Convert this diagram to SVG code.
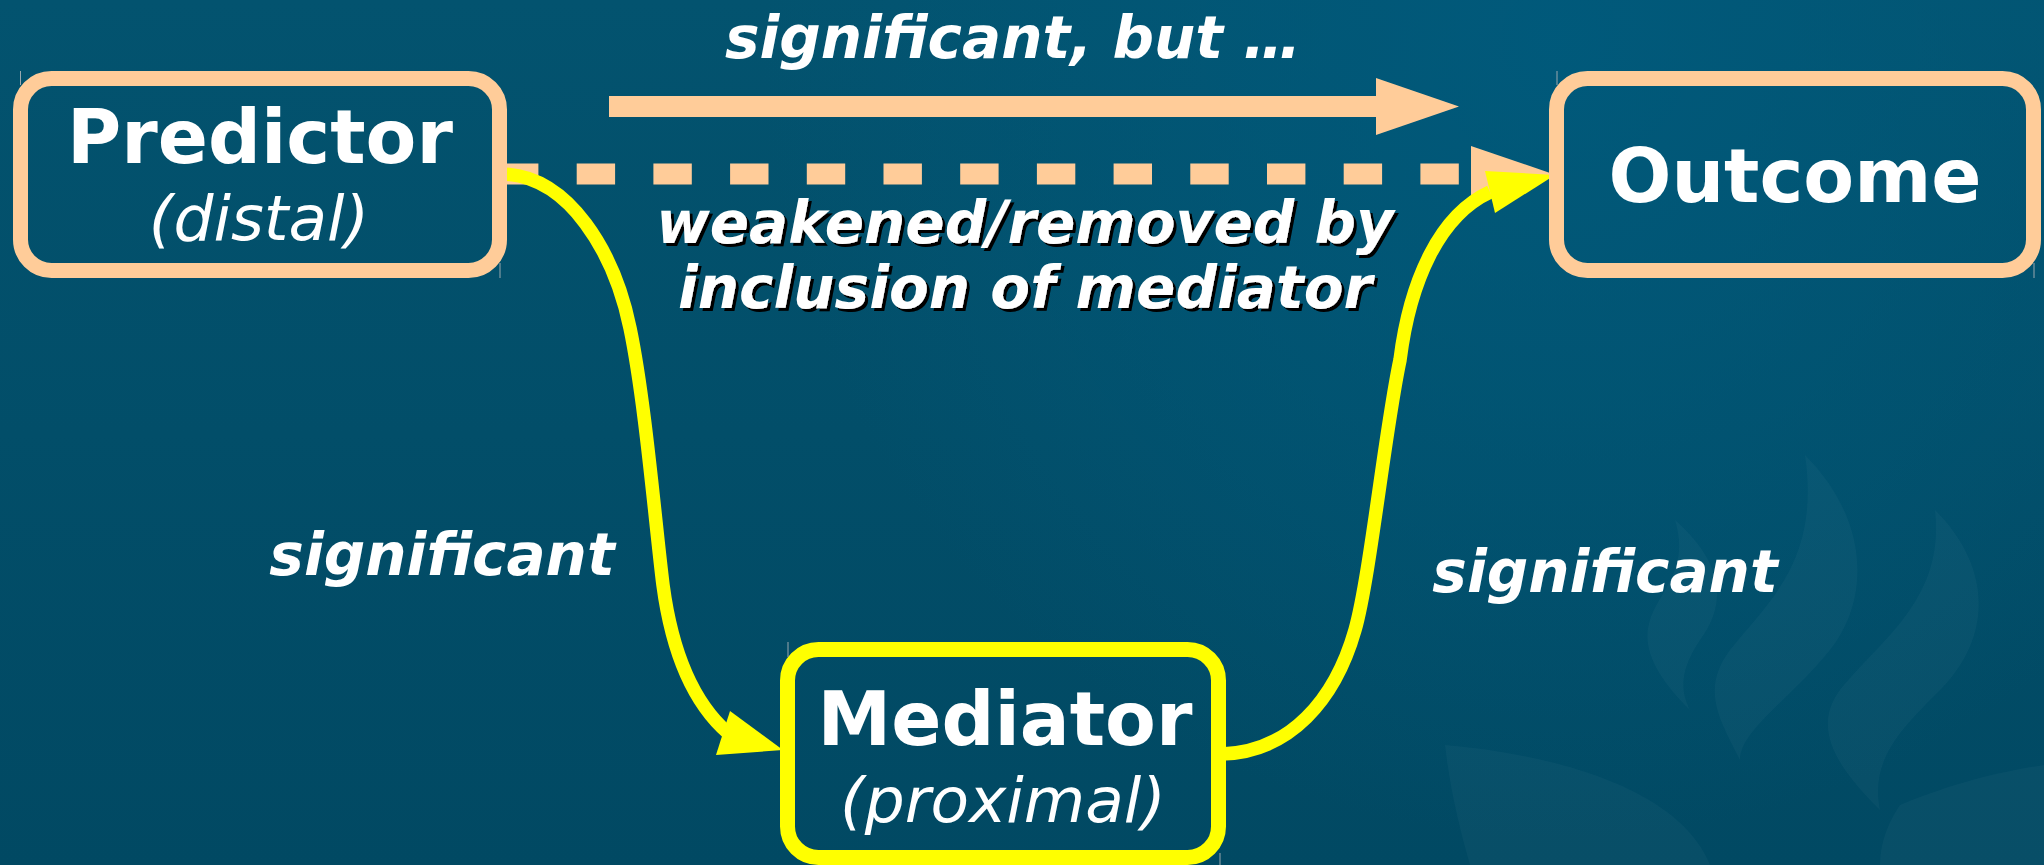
<svg xmlns="http://www.w3.org/2000/svg" width="2044" height="865" viewBox="0 0 2044 865">
  <defs>
    <linearGradient id="bg" x1="0" y1="0" x2="0" y2="1">
      <stop offset="0" stop-color="#03536f"/>
      <stop offset="1" stop-color="#014963"/>
    </linearGradient>
    <radialGradient id="glow" cx="1560" cy="40" r="800" gradientUnits="userSpaceOnUse">
      <stop offset="0" stop-color="#005a7c" stop-opacity="0.9"/>
      <stop offset="1" stop-color="#005a7c" stop-opacity="0"/>
    </radialGradient>
    <filter id="shadow" x="-5%" y="-20%" width="110%" height="140%">
      <feOffset dx="3" dy="3" in="SourceAlpha" result="off"/>
      <feMerge><feMergeNode in="off"/><feMergeNode in="SourceGraphic"/></feMerge>
    </filter>
    <style>
      .box { fill: none; stroke-width: 15; }
      .peach { stroke: #ffcc99; }
      .yel { stroke: #ffff00; }
      .title { font-family: "DejaVu Sans", "Liberation Sans", sans-serif; font-weight: bold; font-size: 74px; fill: #ffffff; text-anchor: middle; }
      .sub { font-family: "DejaVu Sans", "Liberation Sans", sans-serif; font-style: italic; font-size: 63px; fill: #ffffff; text-anchor: middle; }
      .lbl { font-family: "DejaVu Sans", "Liberation Sans", sans-serif; font-style: italic; font-weight: bold; font-size: 58px; fill: #ffffff; text-anchor: middle; }
      .tick { stroke: #9aa8ae; stroke-width: 1; }
      .flame { fill: #ffffff; fill-opacity: 0.03; }
      .curve { fill: none; stroke: #ffff00; stroke-width: 13.5; }
    </style>
  </defs>

  <g id="background">
    <rect x="0" y="0" width="2044" height="865" fill="url(#bg)"/>
    <rect x="0" y="0" width="2044" height="865" fill="url(#glow)"/>
    <path class="flame" d="M1805,455 C1870,520 1870,600 1830,650 C1790,700 1740,730 1740,760 C1720,720 1700,690 1730,650 C1770,600 1820,560 1805,455 Z"/>
    <path class="flame" d="M1675,520 C1720,560 1730,600 1700,640 C1680,670 1680,690 1690,710 C1660,680 1640,650 1650,620 C1660,590 1690,570 1675,520 Z"/>
    <path class="flame" d="M1935,510 C1995,570 1990,640 1940,690 C1900,730 1870,760 1880,810 C1840,770 1810,730 1840,690 C1880,640 1945,600 1935,510 Z"/>
    <path class="flame" d="M1445,745 C1560,755 1680,790 1710,865 L1470,865 C1460,830 1450,790 1445,745 Z"/>
    <path class="flame" d="M1900,805 C1960,780 2010,770 2044,765 L2044,865 L1880,865 C1880,840 1890,820 1900,805 Z"/>
  </g>

  <g id="connectors">
    <!-- significant, but ... arrow -->
    <rect x="609" y="96" width="767" height="21" fill="#ffcc99"/>
    <polygon points="1376,78 1459,106.5 1376,135" fill="#ffcc99"/>
    <!-- dashed direct path -->
    <line x1="500" y1="174" x2="1460" y2="174" stroke="#ffcc99" stroke-width="21" stroke-dasharray="38.4 38.3"/>
    <polygon points="1471,146 1553,174 1471,202" fill="#ffcc99"/>
    <!-- predictor to mediator -->
    <path class="curve" d="M500,174 C570,174 615,255 630,328 C645,400 655,520 663,585 C671,645 690,700 728,733"/>
    <polygon points="730,711 783,750 716,755" fill="#ffff00"/>
    <!-- mediator to outcome -->
    <path class="curve" d="M1222,754 C1290,752 1335,700 1355,630 C1370,577 1385,430 1400,360 C1410,280 1440,215 1490,192"/>
    <polygon points="1485,171 1555,175 1495,213" fill="#ffff00"/>
  </g>

  <g id="predictor">
    <rect class="box peach" x="20.5" y="78.5" width="479" height="192" rx="31" ry="31"/>
    <line class="tick" x1="20.5" y1="71" x2="20.5" y2="85"/>
    <line class="tick" x1="500" y1="263" x2="500" y2="278"/>
    <text class="title" x="260" y="163">Predictor</text>
    <text class="sub" x="259" y="240">(distal)</text>
  </g>

  <g id="outcome">
    <rect class="box peach" x="1556.5" y="78.5" width="477" height="192" rx="31" ry="31"/>
    <line class="tick" x1="1557" y1="71" x2="1557" y2="85"/>
    <line class="tick" x1="2034" y1="263" x2="2034" y2="278"/>
    <text class="title" x="1795" y="202">Outcome</text>
  </g>

  <g id="mediator">
    <rect class="box yel" x="787.5" y="649.5" width="431" height="208" rx="31" ry="31"/>
    <line class="tick" x1="788" y1="642" x2="788" y2="657"/>
    <line class="tick" x1="1220" y1="853" x2="1220" y2="865"/>
    <text class="title" x="1005" y="745">Mediator</text>
    <text class="sub" x="1003" y="822">(proximal)</text>
  </g>

  <g id="labels">
    <text class="lbl" x="1013" y="58">significant, but …</text>
    <g filter="url(#shadow)">
      <text class="lbl" x="1025" y="243">weakened/removed by</text>
      <text class="lbl" x="1025" y="308">inclusion of mediator</text>
    </g>
    <text class="lbl" x="442" y="575">significant</text>
    <text class="lbl" x="1605" y="592">significant</text>
  </g>
</svg>
